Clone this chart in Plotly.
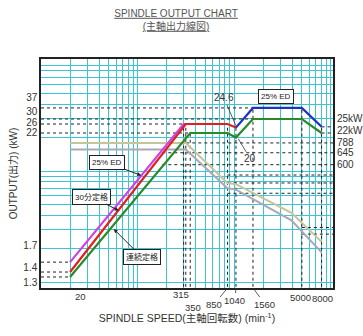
import plotly.graph_objects as go
import numpy as np

# ---------------- data ----------------
# output curves (rpm, kW)
ed25_low_rpm = [20, 299, 330]
ed25_low_kw = [1.51, 26.5, 26.5]

min30_rpm = [20, 315, 850, 1040]
min30_kw = [1.23, 26.5, 26.5, 24.6]

ed25_high_rpm = [1040, 1560, 5000, 8000]
ed25_high_kw = [24.6, 37, 37, 25]

cont_rpm = [20, 350, 850, 1040, 1560, 5000, 8000]
cont_kw = [1.11, 22, 22, 20, 29.4, 29.4, 22]

# torque-like grey curves
tq1_rpm = [20, 315, 850, 1040, 3900, 8000]
tq1_val = [17.9, 17.9, 7.8, 7.6, 4.2, 2.3]
tq2_rpm = [20, 315, 850, 1040, 3900, 8000]
tq2_val = [15.6, 15.6, 7.0, 6.8, 3.6, 1.85]

# reference levels
left_levels = [37, 29.4, 26.5, 22]
low_levels = [1.51, 1.23, 1.11]
mid_levels = [9.2, 7.8, 6.3]
low_right_levels = [3.1, 2.7]

# tick labels
y_tick_text = ["37", "30", "26", "22", "1.7", "1.4", "1.3"]
y_tick_pos = [46.4, 34.7, 27.6, 22.0, 2.15, 1.34, 0.98]
right_text = ["25kW", "22kW", "788", "645", "600"]
right_pos = [30.0, 23.4, 17.9, 14.6, 11.4]
x_tick_text = ["20", "315", "350", "850", "1040", "1560", "5000", "8000"]
x_tick_rpm = [20, 315, 350, 850, 1040, 1560, 5000, 8000]

FONT = "Liberation Sans, Arial, Noto Sans CJK JP"
GRID = "#3cc4d4"

fig = go.Figure()

# dotted reference lines
dot = dict(color="#222", width=1, dash="dot")
for lv, end in zip(left_levels, [1560, 1560, 315, 350]):
    fig.add_trace(go.Scatter(x=[10, end], y=[lv, lv], mode="lines", line=dot, hoverinfo="skip"))
for lv in low_levels:
    fig.add_trace(go.Scatter(x=[10, 20], y=[lv, lv], mode="lines", line=dot, hoverinfo="skip"))
for lv in [25, 22]:
    fig.add_trace(go.Scatter(x=[8000, 10500], y=[lv, lv], mode="lines", line=dot, hoverinfo="skip"))
for lv in right_pos[2:]:
    fig.add_trace(go.Scatter(x=[180, 10500], y=[lv, lv], mode="lines", line=dot, hoverinfo="skip"))
for lv in mid_levels:
    fig.add_trace(go.Scatter(x=[850, 10500], y=[lv, lv], mode="lines", line=dot, hoverinfo="skip"))
for lv in low_right_levels:
    fig.add_trace(go.Scatter(x=[5000, 10500], y=[lv, lv], mode="lines", line=dot, hoverinfo="skip"))
vert = [(299, 26.5), (315, 26.5), (350, 22), (850, 26.5), (1040, 24.6), (1560, 37), (5000, 37), (8000, 25)]
for r, top in vert:
    fig.add_trace(go.Scatter(x=[r, r], y=[0.8, top], mode="lines", line=dot, hoverinfo="skip"))

# torque curves
fig.add_trace(go.Scatter(x=tq1_rpm, y=tq1_val, mode="lines", line=dict(color="#c8c49a", width=2), hoverinfo="skip"))
fig.add_trace(go.Scatter(x=tq2_rpm, y=tq2_val, mode="lines", line=dict(color="#a8a8b8", width=2), hoverinfo="skip"))

# output curves
fig.add_trace(go.Scatter(x=ed25_low_rpm, y=ed25_low_kw, mode="lines", line=dict(color="#d040e8", width=2.2)))
fig.add_trace(go.Scatter(x=cont_rpm, y=cont_kw, mode="lines", line=dict(color="#2a8a2a", width=2.2)))
fig.add_trace(go.Scatter(x=min30_rpm, y=min30_kw, mode="lines", line=dict(color="#e02020", width=2.2)))
fig.add_trace(go.Scatter(x=ed25_high_rpm, y=ed25_high_kw, mode="lines", line=dict(color="#2030c0", width=2.2)))

xgrid = [m * 10 ** d for d in range(1, 4) for m in range(1, 10)] + [10000]
ygrid = [m * 10 ** d for d in range(0, 2) for m in range(1, 10)] + [100]

TF = dict(size=9.5, color="#333", family=FONT)
ann = []
# x tick labels (staggered)
xt_dx = [10, -5, 3, -13, -1, 12, -1, 1]
xt_dy = [8, 6, 19, 16, 12, 16, 9, 10]
xt_arrow = [False, False, False, True, True, True, False, False]
for t, r, dx, dy, ar in zip(x_tick_text, x_tick_rpm, xt_dx, xt_dy, xt_arrow):
    if ar:
        ann.append(dict(x=np.log10(r), y=0, xref="x", yref="paper", text=t, showarrow=True,
                        arrowhead=0, arrowwidth=0.8, arrowcolor="#333", ax=dx, ay=dy, font=TF))
    else:
        ann.append(dict(x=np.log10(r), y=0, xref="x", yref="paper", text=t, showarrow=False,
                        xshift=dx, yshift=-dy, yanchor="middle", font=TF))
# right side labels
for t, v in zip(right_text, right_pos):
    ann.append(dict(x=1.0, y=np.log10(v), xref="paper", yref="y", text=t, showarrow=False,
                    xanchor="left", xshift=2, font=dict(size=10, color="#333", family=FONT)))
# in-plot labels
box = dict(bordercolor="#222", borderwidth=1, bgcolor="white", borderpad=2,
           font=dict(size=8, color="#222", family=FONT))
ann.append(dict(x=np.log10(2700), y=np.log10(47), text="25% ED", showarrow=False, **box))
ann.append(dict(x=np.log10(109), y=np.log10(9.1), text="25% ED", showarrow=True, arrowhead=2,
                arrowsize=0.8, arrowwidth=1, arrowcolor="#222", ax=-34, ay=-13, **box))
ann.append(dict(x=np.log10(63.6), y=np.log10(4.4), text="30分定格", showarrow=True, arrowhead=2,
                arrowsize=0.8, arrowwidth=1, arrowcolor="#222", ax=-27, ay=-14, **box))
ann.append(dict(x=np.log10(56.6), y=np.log10(3.0), text="連続定格", showarrow=True, arrowhead=2,
                arrowsize=0.8, arrowwidth=1, arrowcolor="#222", ax=28, ay=28, **box))
ann.append(dict(x=np.log10(1040), y=np.log10(25.5), text="24.6", showarrow=True, arrowhead=0,
                arrowwidth=0.8, arrowcolor="#333", ax=-12, ay=-28,
                font=dict(size=10, color="#333", family=FONT)))
ann.append(dict(x=np.log10(1100), y=np.log10(19.5), text="20", showarrow=True, arrowhead=0,
                arrowwidth=0.8, arrowcolor="#333", ax=12, ay=20,
                font=dict(size=10, color="#333", family=FONT)))

fig.update_layout(
    width=363, height=336,
    margin=dict(l=38, r=30, t=59, b=48),
    paper_bgcolor="white", plot_bgcolor="white",
    showlegend=False,
    title=dict(text="<u>SPINDLE OUTPUT CHART</u><br><u>(主軸出力線図)</u>", x=0.485, xanchor="center",
               y=0.95, yanchor="top", font=dict(size=10, color="#555", family=FONT)),
    font=dict(family=FONT, size=10, color="#333"),
    annotations=ann,
)
fig.update_xaxes(type="log", range=[1, np.log10(10500)], showgrid=True, gridcolor=GRID, gridwidth=1,
                 tickvals=xgrid, showticklabels=False, ticks="", zeroline=False,
                 showline=True, linecolor="#222", linewidth=1.5, mirror=True,
                 title=dict(text="SPINDLE SPEED(主軸回転数) (min<sup>-1</sup>)", standoff=26,
                            font=dict(size=10.5, color="#333")))
fig.update_yaxes(type="log", range=[-0.054, 2.009], tickvals=y_tick_pos, ticktext=y_tick_text,
                 showgrid=False, ticks="", zeroline=False,
                 minor=dict(tickvals=ygrid, showgrid=True, gridcolor=GRID, gridwidth=1),
                 showline=True, linecolor="#222", linewidth=1.5, mirror=True,
                 tickfont=dict(size=10, color="#333"),
                 title=dict(text="OUTPUT(出力) (kW)", standoff=4, font=dict(size=10, color="#333")))

fig.write_html("out.html")
